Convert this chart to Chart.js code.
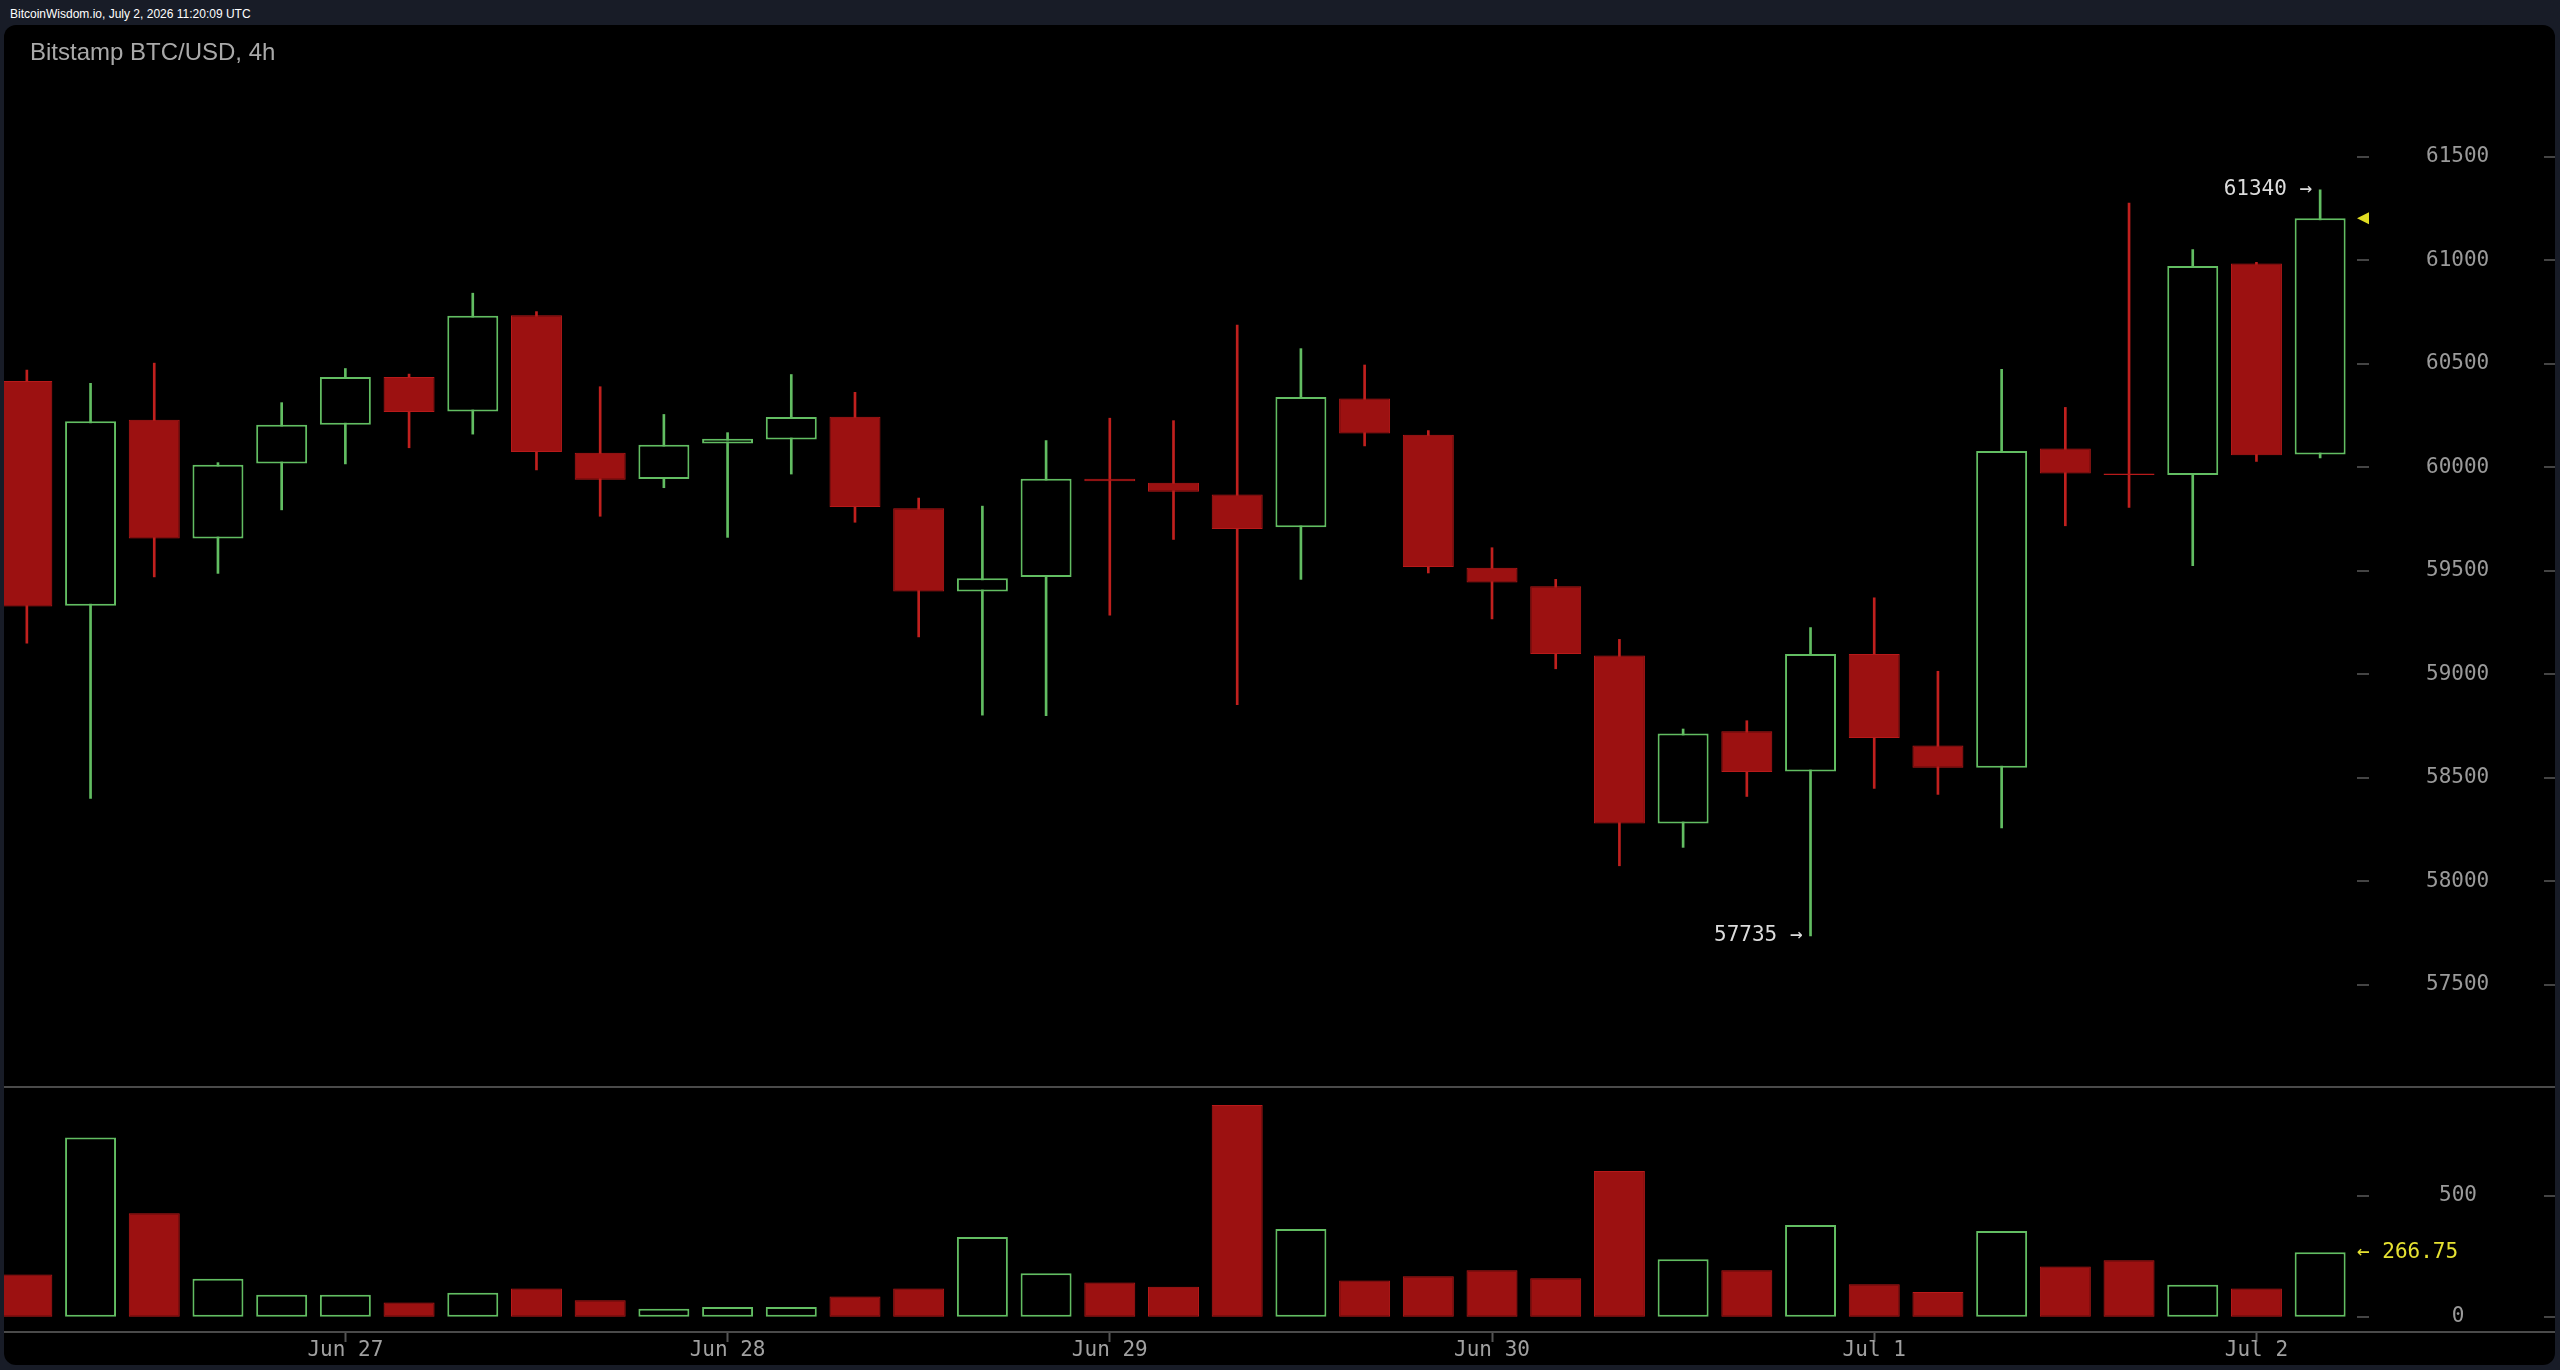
<!DOCTYPE html>
<html>
<head>
<meta charset="utf-8">
<title>Bitstamp BTC/USD, 4h</title>
<script src="https://cdn.jsdelivr.net/npm/chart.js@4.4.1/dist/chart.umd.min.js"></script>
<style>
  html, body { margin: 0; padding: 0; width: 2560px; height: 1370px; overflow: hidden; background: #181c27; }
  #header { position: absolute; left: 10px; top: 8px; font: 500 12px/12px 'Liberation Sans', Arial, sans-serif; color: #fff; }
  #panel { position: absolute; left: 4px; top: 25px; width: 2551px; height: 1340px; background: #000; border-radius: 12px; overflow: hidden; }
  #title { position: absolute; left: 26px; top: 15px; font: 24px/24px 'Liberation Sans', Arial, sans-serif; color: #a9a9a9; z-index: 2; }
  #priceChart { position: absolute; left: -9px; top: 0; }
  #volumeChart { position: absolute; left: -9px; top: 1062px; }
  .hline { position: absolute; left: 0; width: 100%; height: 2px; background: #4a4a4a; z-index: 2; }
</style>
</head>
<body>
<div id="header">BitcoinWisdom.io, July 2, 2026 11:20:09 UTC</div>
<div id="panel">
  <div id="title">Bitstamp BTC/USD, 4h</div>
  <canvas id="priceChart" width="2560" height="1062"></canvas>
  <canvas id="volumeChart" width="2560" height="278"></canvas>
  <div class="hline" style="top:1061px"></div>
  <div class="hline" style="top:1306px"></div>
</div>
<script>
// 4h candles, Bitstamp BTC/USD
const categories = [
  'Jun 26 04:00', 'Jun 26 08:00', 'Jun 26 12:00', 'Jun 26 16:00', 'Jun 26 20:00',
  'Jun 27 00:00', 'Jun 27 04:00', 'Jun 27 08:00', 'Jun 27 12:00', 'Jun 27 16:00', 'Jun 27 20:00',
  'Jun 28 00:00', 'Jun 28 04:00', 'Jun 28 08:00', 'Jun 28 12:00', 'Jun 28 16:00', 'Jun 28 20:00',
  'Jun 29 00:00', 'Jun 29 04:00', 'Jun 29 08:00', 'Jun 29 12:00', 'Jun 29 16:00', 'Jun 29 20:00',
  'Jun 30 00:00', 'Jun 30 04:00', 'Jun 30 08:00', 'Jun 30 12:00', 'Jun 30 16:00', 'Jun 30 20:00',
  'Jul 1 00:00', 'Jul 1 04:00', 'Jul 1 08:00', 'Jul 1 12:00', 'Jul 1 16:00', 'Jul 1 20:00',
  'Jul 2 00:00', 'Jul 2 04:00'
];
const opens = [60417, 59330, 60230, 59655, 60018, 60205, 60436, 60269, 60734, 60070, 59943, 60115, 60134,
  60244, 59802, 59400, 59470, 59944, 59925, 59868, 59710, 60332, 60157, 59514, 59425, 59090, 58278, 58724,
  58530, 59098, 58655, 58548, 60090, 59970, 59962, 60984, 60062];
const highs = [60470, 60406, 60503, 60022, 60312, 60477, 60450, 60841, 60752, 60389, 60255, 60167, 60448,
  60362, 59851, 59812, 60129, 60237, 60225, 60687, 60573, 60494, 60177, 59611, 59458, 59168, 58735, 58775,
  59225, 59369, 59014, 60473, 60289, 61276, 61052, 60990, 61340];
const lows = [59150, 58400, 59470, 59487, 59794, 60016, 60094, 60160, 59987, 59763, 59901, 59661, 59967,
  59734, 59180, 58802, 58800, 59285, 59651, 58853, 59458, 60103, 59489, 59267, 59026, 58074, 58163, 58409,
  57735, 58448, 58419, 58257, 59717, 59806, 59524, 60028, 60045];
const closes = [59327, 60222, 59655, 60012, 60205, 60436, 60267, 60732, 60073, 59940, 60108, 60137, 60243,
  59808, 59400, 59464, 59944, 59932, 59882, 59702, 60339, 60163, 59518, 59443, 59097, 58278, 58713, 58527,
  59097, 58692, 58548, 60079, 59970, 59962, 60972, 60058, 61203];
const volumes = [175, 740, 428, 157, 91, 91, 59, 99, 117, 68, 33, 40, 40, 84, 117, 329, 180, 141, 124,
  875, 362, 150, 167, 192, 159, 602, 238, 192, 379, 134, 102, 354, 208, 233, 132, 117, 266.75];

const priceTicks = [57500, 58000, 58500, 59000, 59500, 60000, 60500, 61000, 61500];
const volumeTicks = [0, 500];

const GREEN = '#62bd62';
const RED = '#9c1111';
const RED_LINE = '#b81a1a';
const up = closes.map((c, i) => c >= opens[i]);
const isDay = i => categories[i] && categories[i].endsWith(' 00:00');

Chart.defaults.font.family = '"DejaVu Sans Mono", monospace';
Chart.defaults.font.size = 21;

// short tick marks either side of the right-hand labels
const axisMarks = {
  id: 'axisMarks',
  afterDraw(chart) {
    const ctx = chart.ctx, s = chart.scales.y, a = chart.chartArea;
    ctx.save();
    ctx.strokeStyle = '#444';
    ctx.lineWidth = 2;
    s.ticks.forEach(t => {
      const y = Math.round(s.getPixelForValue(t.value));
      ctx.beginPath();
      ctx.moveTo(a.right + 5, y); ctx.lineTo(a.right + 17, y);
      ctx.moveTo(chart.width - 11, y); ctx.lineTo(chart.width, y);
      ctx.stroke();
    });
    ctx.restore();
  }
};

const priceNotes = {
  id: 'priceNotes',
  afterDatasetsDraw(chart) {
    const { ctx, scales: { x, y } } = chart;
    const hi = highs.indexOf(Math.max(...highs));
    const lo = lows.indexOf(Math.min(...lows));
    const last = closes.length - 1;
    ctx.save();
    ctx.font = '21px "DejaVu Sans Mono"';
    ctx.fillStyle = '#dcdcdc';
    ctx.textAlign = 'right';
    ctx.textBaseline = 'middle';
    ctx.fillText(highs[hi] + ' →', x.getPixelForValue(hi) - 8, y.getPixelForValue(highs[hi]));
    ctx.fillText(lows[lo] + ' →', x.getPixelForValue(lo) - 8, y.getPixelForValue(lows[lo]));
    // last price marker
    const cy = y.getPixelForValue(closes[last]);
    const left = chart.chartArea.right + 5;
    ctx.fillStyle = '#e0dc22';
    ctx.beginPath();
    ctx.moveTo(left, cy);
    ctx.lineTo(left + 12, cy - 6);
    ctx.lineTo(left + 12, cy + 6);
    ctx.closePath();
    ctx.fill();
    ctx.restore();
  }
};

const volumeNote = {
  id: 'volumeNote',
  afterDatasetsDraw(chart) {
    const { ctx, scales: { y } } = chart;
    const last = volumes.length - 1;
    ctx.save();
    ctx.font = '21px "DejaVu Sans Mono"';
    ctx.fillStyle = '#e6e232';
    ctx.textAlign = 'left';
    ctx.textBaseline = 'middle';
    ctx.fillText('← ' + volumes[last], chart.chartArea.right + 5, y.getPixelForValue(volumes[last]));
    ctx.restore();
  }
};

const priceChart = new Chart(document.getElementById('priceChart').getContext('2d'), {
  type: 'bar',
  data: {
    labels: categories,
    datasets: [{
      label: 'body',
      data: opens.map((o, i) => [o, closes[i]]),
      backgroundColor: ctx => up[ctx.dataIndex] ? '#000' : RED,
      borderColor: ctx => up[ctx.dataIndex] ? GREEN : RED_LINE,
      borderWidth: ctx => up[ctx.dataIndex] ? 2 : 1,
      borderSkipped: false,
      grouped: false,
      categoryPercentage: 1,
      barPercentage: 0.8,
      order: 0
    }, {
      label: 'wick',
      data: lows.map((l, i) => [l, highs[i]]),
      backgroundColor: ctx => up[ctx.dataIndex] ? GREEN : '#c0201e',
      borderWidth: 0,
      grouped: false,
      barThickness: 2,
      order: 1
    }]
  },
  options: {
    responsive: false,
    devicePixelRatio: 1,
    animation: false,
    events: [],
    layout: { padding: 0 },
    plugins: { legend: { display: false }, tooltip: { enabled: false }, title: { display: false } },
    scales: {
      x: { display: false, offset: true },
      y: {
        position: 'right',
        min: 57005,
        max: 62137,
        grid: { display: false },
        border: { display: false },
        ticks: { padding: 66, crossAlign: 'center', color: '#9a9a9a', callback: v => String(v) },
        afterBuildTicks(s) { s.ticks = priceTicks.map(v => ({ value: v })); },
        afterFit(s) { s.width = 203; s.paddingTop = 0; s.paddingBottom = 0; }
      }
    }
  },
  plugins: [axisMarks, priceNotes]
});

const volumeChart = new Chart(document.getElementById('volumeChart').getContext('2d'), {
  type: 'bar',
  data: {
    labels: categories,
    datasets: [{
      label: 'volume',
      data: volumes,
      backgroundColor: ctx => up[ctx.dataIndex] ? '#000' : RED,
      borderColor: ctx => up[ctx.dataIndex] ? GREEN : RED_LINE,
      borderWidth: ctx => up[ctx.dataIndex] ? 2 : 1,
      borderSkipped: false,
      categoryPercentage: 1,
      barPercentage: 0.8
    }]
  },
  options: {
    responsive: false,
    devicePixelRatio: 1,
    animation: false,
    events: [],
    layout: { padding: 0 },
    plugins: { legend: { display: false }, tooltip: { enabled: false }, title: { display: false } },
    scales: {
      x: {
        offset: true,
        grid: {
          display: true, drawOnChartArea: false, drawTicks: true, offset: false,
          tickLength: 10, tickWidth: 2,
          tickColor: ctx => isDay(ctx.index) ? '#555' : 'rgba(0,0,0,0)'
        },
        border: { display: false },
        ticks: {
          autoSkip: false, maxRotation: 0, minRotation: 0, padding: -4, color: '#a0a0a0',
          callback: (v, i) => isDay(i) ? categories[i].slice(0, -6) : ''
        },
        afterFit(s) { s.height = 33; s.paddingLeft = 0; s.paddingRight = 0; }
      },
      y: {
        position: 'right',
        min: -63,
        max: 949,
        grid: { display: false },
        border: { display: false },
        ticks: { padding: 79, crossAlign: 'center', color: '#9a9a9a', callback: v => String(v) },
        afterBuildTicks(s) { s.ticks = volumeTicks.map(v => ({ value: v })); },
        afterFit(s) { s.width = 203; s.paddingTop = 0; s.paddingBottom = 0; }
      }
    }
  },
  plugins: [axisMarks, volumeNote]
});
</script>
</body>
</html>
